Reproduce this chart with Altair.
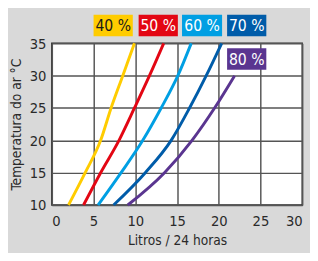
import altair as alt
import pandas as pd

# Data
temps = [10, 15, 20, 25, 30, 35]
series_names = ["40 %", "50 %", "60 %", "70 %", "80 %"]
litros_40 = [2.0, 4.0, 5.85, 7.1, 8.5, 9.9]
litros_50 = [3.8, 5.85, 8.05, 9.9, 11.7, 13.4]
litros_60 = [5.55, 8.3, 10.9, 13.1, 15.1, 16.7]
litros_70 = [7.4, 11.2, 14.3, 16.5, 18.5, 20.35]
litros_80 = [9.1, 13.5, 16.8, 19.5, 21.9]
x_ticks = [0, 5, 10, 15, 20, 25, 30]
y_ticks = [10, 15, 20, 25, 30, 35]
colors = ["#FFCC00", "#E30613", "#009FE3", "#005CA9", "#5A3590"]
text_colors = ["#1a1a1a", "#ffffff", "#ffffff", "#ffffff", "#ffffff"]

# label box placement (in chart data units)
box_x1 = [5.0, 10.4, 15.6, 21.0, 21.0]
box_x2 = [9.7, 15.1, 20.4, 25.7, 25.7]
box_y1 = [36.1, 36.1, 36.1, 36.1, 30.9]
box_y2 = [39.4, 39.4, 39.4, 39.4, 34.25]

rows = []
for name, vals in zip(series_names, [litros_40, litros_50, litros_60, litros_70, litros_80]):
    for t, v in zip(temps, vals):
        rows.append({"serie": name, "temp": t, "litros": v})
df = pd.DataFrame(rows)

labels = pd.DataFrame({
    "serie": series_names,
    "x1": box_x1, "x2": box_x2, "y1": box_y1, "y2": box_y2,
    "tc": text_colors,
})
labels["xm"] = (labels["x1"] + labels["x2"]) / 2
labels["ym"] = (labels["y1"] + labels["y2"]) / 2

FONT = "DejaVu Sans Condensed, Roboto Condensed, Roboto, sans-serif"

xscale = alt.Scale(domain=[0, 30], nice=False, zero=False)
yscale = alt.Scale(domain=[10, 35], nice=False, zero=False)
cscale = alt.Scale(domain=series_names, range=colors)
xaxis = alt.Axis(title="Litros / 24 horas", values=x_ticks)
yaxis = alt.Axis(title="Temperatura do ar °C", values=y_ticks)

lines = alt.Chart(df).mark_line(strokeWidth=3, interpolate="monotone").encode(
    x=alt.X("litros:Q", scale=xscale, axis=xaxis),
    y=alt.Y("temp:Q", scale=yscale, axis=yaxis),
    color=alt.Color("serie:N", scale=cscale, legend=None),
    order=alt.Order("temp:Q"),
)

boxes = alt.Chart(labels).mark_rect().encode(
    x=alt.X("x1:Q", scale=xscale, axis=xaxis), x2="x2:Q",
    y=alt.Y("y1:Q", scale=yscale, axis=yaxis), y2="y2:Q",
    color=alt.Color("serie:N", scale=cscale, legend=None),
)

texts = alt.Chart(labels).mark_text(font=FONT, fontSize=16, baseline="middle", align="center", dy=1).encode(
    x=alt.X("xm:Q", scale=xscale, axis=xaxis),
    y=alt.Y("ym:Q", scale=yscale, axis=yaxis),
    text="serie:N",
    color=alt.Color("tc:N", scale=None),
)

chart = alt.layer(lines, boxes, texts).properties(
    width=257, height=166,
    autosize=alt.AutoSizeParams(type="none"),
    padding={"left": 45, "top": 33, "right": 8, "bottom": 46},
    background="#d9d9d9",
).configure_view(
    fill="white", stroke="#2a2a2a", strokeWidth=1.5,
).configure_axis(
    labelFont=FONT, titleFont=FONT, labelFontSize=15, titleFontSize=14,
    labelColor="#2a2a2a", titleColor="#2a2a2a", labelOverlap=False,
    titleFontWeight="normal", grid=True, gridColor="#555555", gridWidth=1.5,
    domain=False, ticks=False,
).configure_axisX(
    labelPadding=9, titlePadding=6,
).configure_axisY(
    labelPadding=6, titlePadding=6,
)

chart.save("out.html", embed_options={"renderer": "svg", "actions": False})
